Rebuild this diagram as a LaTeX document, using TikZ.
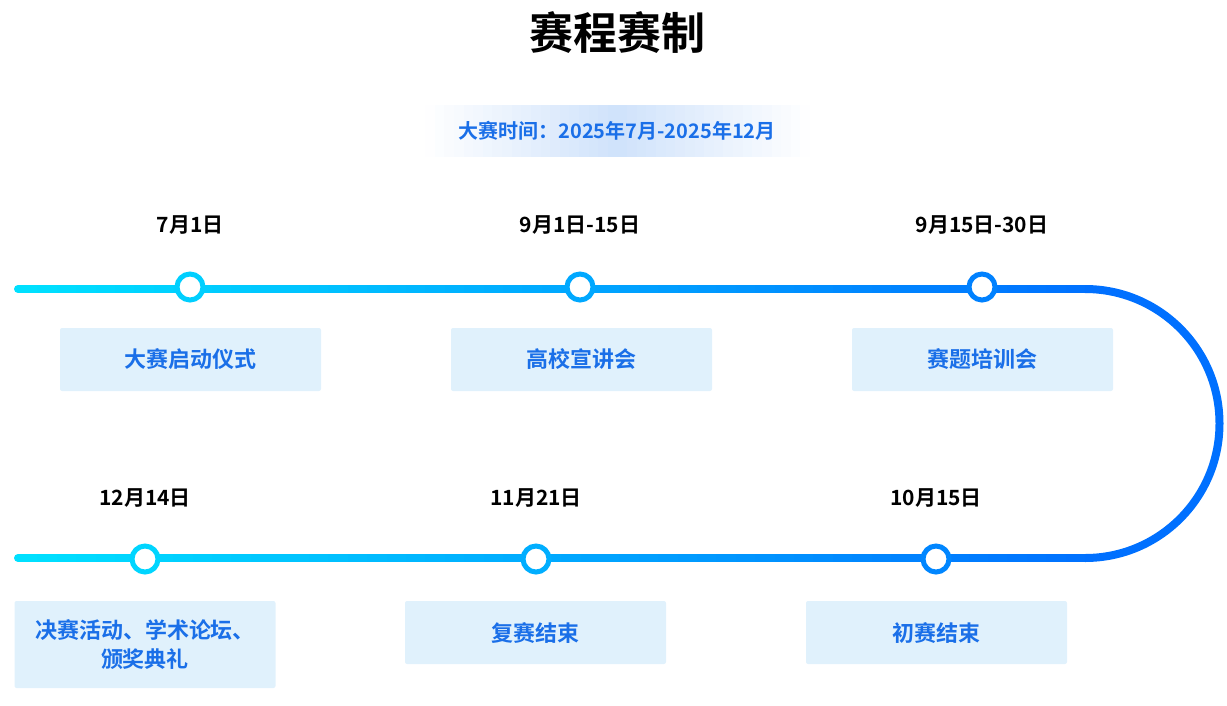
\documentclass[tikz,border=0pt]{standalone}
\usepackage{fontspec}
\setmainfont{Noto Sans CJK SC}[BoldFont={Noto Sans CJK SC Bold}]
\definecolor{lineL}{HTML}{00E0FF}
\definecolor{lineR}{HTML}{0070FF}
\definecolor{boxfill}{HTML}{E0F1FC}
\definecolor{boxtext}{HTML}{1A6FE8}
\definecolor{bandmid}{HTML}{CFE2FB}
\tikzset{
  date/.style={font=\bfseries\fontsize{21}{24}\selectfont, text=black},
  event/.style={fill=boxfill, rounded corners=2pt, minimum width=261pt, minimum height=63pt,
                align=center, text=boxtext, font=\bfseries\fontsize{22}{29}\selectfont},
  dot/.style={circle, fill=white, line width=5pt, minimum size=26pt, inner sep=0pt}
}
\begin{document}
\begin{tikzpicture}[x=1pt, y=-1pt]
    \useasboundingbox (0,0) rectangle (1227,705);

    \node[font=\bfseries\fontsize{44}{48}\selectfont] (title) at (617,33) {赛程赛制};
    % band behind the period, faded to both sides
    \foreach \i in {0,...,39} {
        \pgfmathsetmacro{\p}{100-abs(\i-19.5)*5}
        \fill[bandmid!\p!white] (425+\i*9.625,105) rectangle (425+\i*9.625+10,157);
    }
    \node[text=boxtext, font=\bfseries\fontsize{20}{23}\selectfont] (period) at (617,131) {大赛时间：2025年7月-2025年12月};

    % track: gradient by short pieces
    \foreach \i in {0,...,54} {
        \pgfmathsetmacro{\p}{\i*100/55}
        \colorlet{seg}{lineR!\p!lineL}
        \draw[seg, line width=8pt] (18+\i*19.4,289) -- (18+\i*19.4+20,289);
        \draw[seg, line width=8pt] (18+\i*19.4,558) -- (18+\i*19.4+20,558);
    }
    \draw[lineR, line width=8pt] (1085,289) arc[start angle=-90, end angle=90, radius=134.5];
    \draw[lineL, line width=8pt, line cap=round] (18,289) -- (20,289);
    \draw[lineL, line width=8pt, line cap=round] (18,558) -- (20,558);

    % top row
    \node[dot, draw=lineR!15!lineL] (d1) at (190,287) {};
    \node[dot, draw=lineR!50!lineL] (d2) at (580,287) {};
    \node[dot, draw=lineR!85!lineL] (d3) at (982,287) {};
    \node[date] (t1) at (190,225) {7月1日};
    \node[date] (t2) at (580,225) {9月1日-15日};
    \node[date] (t3) at (982,225) {9月15日-30日};
    \node[event] (e1) at (190.5,359.5) {大赛启动仪式};
    \node[event] (e2) at (581.5,359.5) {高校宣讲会};
    \node[event] (e3) at (982.5,359.5) {赛题培训会};

    % bottom row
    \node[dot, draw=lineR!10!lineL] (d4) at (145,559) {};
    \node[dot, draw=lineR!45!lineL] (d5) at (536,559) {};
    \node[dot, draw=lineR!80!lineL] (d6) at (936,559) {};
    \node[date] (t4) at (145,498) {12月14日};
    \node[date] (t5) at (536,498) {11月21日};
    \node[date] (t6) at (936,498) {10月15日};
    \node[event, minimum height=87pt] (e4) at (145,644.5) {决赛活动、学术论坛、\\颁奖典礼};
    \node[event] (e5) at (535.5,632.5) {复赛结束};
    \node[event] (e6) at (936.5,632.5) {初赛结束};
\end{tikzpicture}
\end{document}
